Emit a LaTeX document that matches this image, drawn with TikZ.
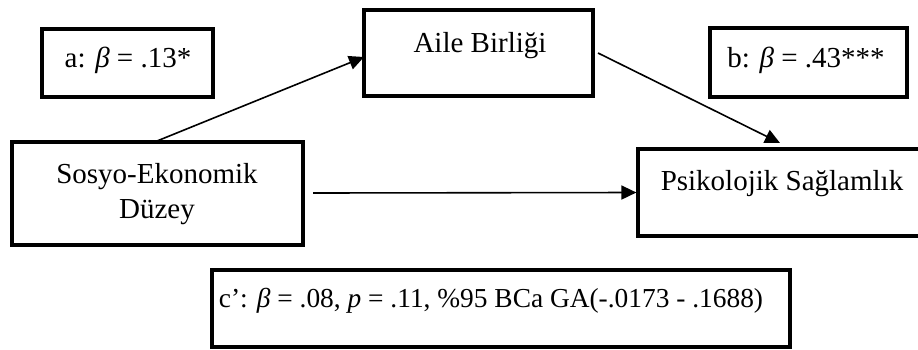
\documentclass[tikz,border=0pt]{standalone}
\usepackage{fontspec}
\setmainfont{Liberation Serif}
\usetikzlibrary{arrows.meta}
\begin{document}
\begin{tikzpicture}[x=1pt,y=-1pt,
  box/.style={draw=black,line width=3.2pt,rectangle,inner sep=0pt},
  lbl/.style={anchor=base,inner sep=0pt,font=\fontsize{29}{34}\selectfont},
  conn/.style={line width=1.6pt,-{Triangle[length=15pt,width=14pt]}}]
\useasboundingbox (0,0) rectangle (918,349);
% boxes
\node[box,minimum width=171pt,minimum height=68pt] (abox) at (127.5,63) {};
\node[box,minimum width=229pt,minimum height=86pt] (aile) at (478.5,53) {};
\node[box,minimum width=197pt,minimum height=69pt] (bbox) at (808.5,62.5) {};
\node[box,minimum width=291pt,minimum height=103pt] (sosyo) at (157.5,193.5) {};
\node[box,minimum width=290pt,minimum height=87pt] (psik) at (783,192.5) {};
\node[box,minimum width=578pt,minimum height=77pt] (cbox) at (501,308.5) {};
% texts
\node[lbl] (atext) at (128,67) {a: \textit{β} = .13*};
\node[lbl] (ailetext) at (480,52) {Aile Birliği};
\node[lbl] (btext) at (806,67) {b: \textit{β} = .43***};
\node[lbl] (sosyotext1) at (157,183) {Sosyo-Ekonomik};
\node[lbl] (sosyotext2) at (157,218) {Düzey};
\node[lbl] (psiktext) at (782,190) {Psikolojik Sağlamlık};
\node[lbl,font=\fontsize{27.4}{32}\selectfont] (ctext) at (491,307) {c’: \textit{β} = .08, \textit{p} = .11, \%95 BCa GA(-.0173 - .1688)};
% connector end points
\coordinate (aS) at (157,141);
\coordinate (aT) at (364,57);
\coordinate (bS) at (598,53);
\coordinate (bT) at (780,143);
\coordinate (cS) at (313,193);
% connectors
\draw[conn] (aS) -- (aT);
\draw[conn] (bS) -- (bT);
\draw[conn] (cS) -- (psik.west);
\end{tikzpicture}
\end{document}
